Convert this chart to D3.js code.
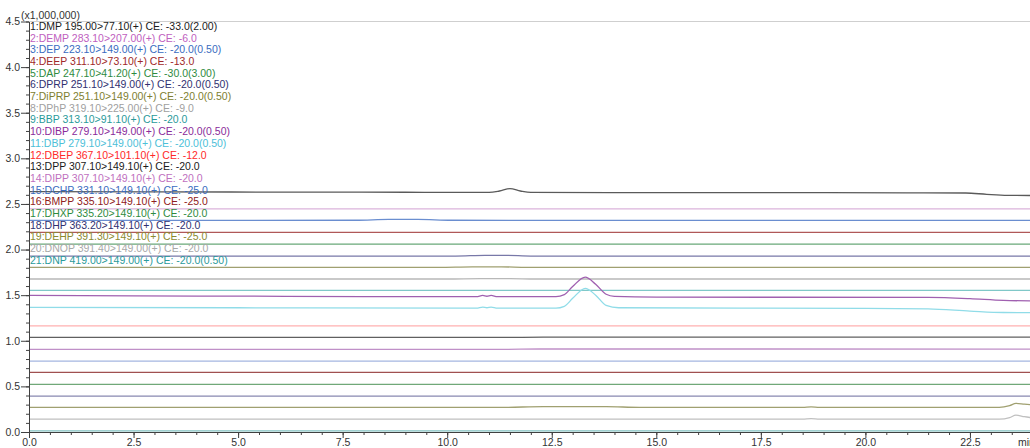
<!DOCTYPE html>
<html>
<head>
<meta charset="utf-8">
<script src="https://cdn.jsdelivr.net/npm/d3@7"></script>
<style>
  html, body { margin: 0; padding: 0; background: #fff; }
  svg { display: block; font-family: "Liberation Sans", Arial, sans-serif; }
</style>
</head>
<body>
<svg id="chart" width="1030" height="448"></svg>
<script>
// MRM channel labels (compound, transition, collision energy)
const channelLabels = [
  "1:DMP 195.00>77.10(+) CE: -33.0(2.00)",
  "2:DEMP 283.10>207.00(+) CE: -6.0",
  "3:DEP 223.10>149.00(+) CE: -20.0(0.50)",
  "4:DEEP 311.10>73.10(+) CE: -13.0",
  "5:DAP 247.10>41.20(+) CE: -30.0(3.00)",
  "6:DPRP 251.10>149.00(+) CE: -20.0(0.50)",
  "7:DiPRP 251.10>149.00(+) CE: -20.0(0.50)",
  "8:DPhP 319.10>225.00(+) CE: -9.0",
  "9:BBP 313.10>91.10(+) CE: -20.0",
  "10:DIBP 279.10>149.00(+) CE: -20.0(0.50)",
  "11:DBP 279.10>149.00(+) CE: -20.0(0.50)",
  "12:DBEP 367.10>101.10(+) CE: -12.0",
  "13:DPP 307.10>149.10(+) CE: -20.0",
  "14:DIPP 307.10>149.10(+) CE: -20.0",
  "15:DCHP 331.10>149.10(+) CE: -25.0",
  "16:BMPP 335.10>149.10(+) CE: -25.0",
  "17:DHXP 335.20>149.10(+) CE: -20.0",
  "18:DHP 363.20>149.10(+) CE: -20.0",
  "19:DEHP 391.30>149.10(+) CE: -25.0",
  "20:DNOP 391.40>149.00(+) CE: -20.0",
  "21:DNP 419.00>149.00(+) CE: -20.0(0.50)"
];

const labelColors = [
  "#1a1a1a", "#c060c0", "#3a6cc0", "#a02828", "#2e8b3e", "#303070", "#7e7e30",
  "#a0a0a0", "#2a9a9a", "#8a2a9a", "#4cc0d8", "#ff2828", "#1a1a1a", "#c070c0",
  "#3a6cc0", "#902020", "#2e8b3e", "#303070", "#8a8a30", "#a8a8a8", "#2a9a9a"
];

const traceColors = [
  "#5a5a5a", "#dcb4dc", "#6a8ed0", "#b05858", "#68a878", "#7878a8", "#a0a070",
  "#b8b8b8", "#80c8c8", "#a060b0", "#90dce8", "#ffb0b0", "#606060", "#c090c8",
  "#a4b6e0", "#a05050", "#70a878", "#8888b0", "#a0a070", "#c0c0c0", "#80c0c0"
];

// Intensity traces, [retention time (min), intensity (x1,000,000)]
const trDMP   = [[0,2.636],[3,2.632],[6,2.630],[9,2.628],[11.0,2.627],[11.25,2.642],[11.5,2.667],[11.75,2.642],[12.0,2.626],[16,2.624],[21,2.622],[22.4,2.620],[22.9,2.605],[23.4,2.594],[24.1,2.592]];
const trDEMP  = [[0,2.447],[12,2.447],[24.1,2.446]];
const trDEP   = [[0,2.320],[7.8,2.321],[8.6,2.330],[9.3,2.331],[10.1,2.321],[12,2.320],[24.1,2.319]];
const trDEEP  = [[0,2.189],[12,2.189],[24.1,2.189]];
const trDAP   = [[0,2.060],[12,2.060],[24.1,2.060]];
const trDPRP  = [[0,1.929],[10.2,1.929],[10.9,1.936],[11.4,1.936],[12.0,1.929],[24.1,1.929]];
const trDiPRP = [[0,1.805],[9.8,1.805],[10.6,1.810],[11.3,1.810],[11.9,1.805],[24.1,1.805]];
const trDPhP  = [[0,1.677],[10.0,1.677],[10.8,1.681],[11.5,1.681],[12.1,1.677],[24.1,1.677]];
const trBBP   = [[0,1.553],[12,1.553],[24.1,1.553]];
const trDIBP  = [[0,1.498],[2.5,1.492],[5,1.489],[8,1.485],[10.7,1.483],[10.85,1.497],[10.95,1.488],[11.05,1.497],[11.2,1.483],[12.6,1.484],[12.8,1.505],[13.0,1.595],[13.3,1.698],[13.55,1.620],[13.8,1.510],[14.0,1.486],[15,1.478],[21.5,1.476],[22.5,1.462],[23.3,1.442],[24.1,1.437]];
const trDBP   = [[0,1.366],[5,1.362],[10.7,1.358],[10.85,1.370],[10.95,1.362],[11.05,1.370],[11.2,1.358],[12.6,1.358],[12.8,1.378],[13.0,1.465],[13.3,1.575],[13.55,1.500],[13.8,1.388],[14.1,1.362],[20,1.356],[21.5,1.350],[22.5,1.326],[23.3,1.310],[24.1,1.308]];
const trDBEP  = [[0,1.164],[12,1.164],[24.1,1.164]];
const trDPP   = [[0,1.037],[11.8,1.037],[12.8,1.041],[24.1,1.040]];
const trDIPP  = [[0,0.906],[11.3,0.906],[12.2,0.910],[24.1,0.909]];
const trDCHP  = [[0,0.777],[12,0.777],[24.1,0.777]];
const trBMPP  = [[0,0.654],[12,0.654],[24.1,0.654]];
const trDHXP  = [[0,0.522],[12,0.522],[24.1,0.523]];
const trDHP   = [[0,0.394],[12,0.394],[24.1,0.394]];
const trDEHP  = [[0,0.270],[11.3,0.270],[12.3,0.278],[13.8,0.278],[14.6,0.270],[18.5,0.270],[18.7,0.276],[18.9,0.270],[23.2,0.271],[23.45,0.290],[23.6,0.314],[23.8,0.305],[24.1,0.293]];
const trDNOP  = [[0,0.141],[18.5,0.141],[18.7,0.146],[18.9,0.141],[23.2,0.141],[23.45,0.158],[23.6,0.184],[23.8,0.168],[24.1,0.150]];
const trDNP   = [[0,0.013],[12,0.013],[24.1,0.013]];

const traces = [trDMP, trDEMP, trDEP, trDEEP, trDAP, trDPRP, trDiPRP, trDPhP, trBBP, trDIBP,
  trDBP, trDBEP, trDPP, trDIPP, trDCHP, trBMPP, trDHXP, trDHP, trDEHP, trDNOP, trDNP];

const yMajorTicks = [0.0, 0.5, 1.0, 1.5, 2.0, 2.5, 3.0, 3.5, 4.0, 4.5];
const xMajorTicks = [0.0, 2.5, 5.0, 7.5, 10.0, 12.5, 15.0, 17.5, 20.0, 22.5];

const svg = d3.select("#chart");
const plotLeft = 29, plotTop = 21.5, plotBottom = 432;
const x = d3.scaleLinear().domain([0, 24]).range([plotLeft, plotLeft + 24 * 41.82]);
const y = d3.scaleLinear().domain([0, 4.5]).range([plotBottom, plotTop]);

// top frame line
svg.append("line")
  .attr("x1", plotLeft).attr("x2", 1030)
  .attr("y1", plotTop).attr("y2", plotTop)
  .attr("stroke", "#cfcfcf").attr("stroke-width", 1);

// traces
const line = d3.line().x(d => x(d[0])).y(d => y(d[1])).curve(d3.curveMonotoneX);
svg.append("clipPath").attr("id", "plotclip")
  .append("rect").attr("x", plotLeft).attr("y", plotTop)
  .attr("width", 1030 - plotLeft).attr("height", plotBottom - plotTop);
const gTraces = svg.append("g").attr("clip-path", "url(#plotclip)");
traces.forEach((tr, i) => {
  gTraces.append("path")
    .datum(tr)
    .attr("d", line)
    .attr("fill", "none")
    .attr("stroke", traceColors[i])
    .attr("stroke-width", 1.3);
});

// y axis: minor ticks every 0.1, major every 0.5
const yMinor = d3.range(0, 46).map(v => v / 10);
svg.append("g")
  .attr("transform", `translate(${plotLeft},0)`)
  .call(d3.axisLeft(y).tickValues(yMinor).tickSize(3).tickFormat(""))
  .call(g => g.select(".domain").remove())
  .call(g => g.selectAll("line").attr("stroke", "#404040"));
svg.append("g")
  .attr("transform", `translate(${plotLeft},0)`)
  .call(d3.axisLeft(y).tickValues(yMajorTicks).tickSize(8).tickSizeOuter(0).tickFormat(d3.format(".1f")))
  .call(g => g.select(".domain").attr("stroke", "#404040"))
  .call(g => g.selectAll("line").attr("stroke", "#404040"))
  .call(g => g.selectAll("text").attr("fill", "#333").attr("font-size", "10.5px")
    .attr("font-family", "'Liberation Sans', Arial, sans-serif").attr("x", -9));

// x axis: minor ticks every 0.5, major every 2.5
const xMinor = d3.range(0, 49).map(v => v / 2);
svg.append("g")
  .attr("transform", `translate(0,${plotBottom})`)
  .call(d3.axisBottom(x).tickValues(xMinor).tickSize(3).tickFormat(""))
  .call(g => g.select(".domain").remove())
  .call(g => g.selectAll("line").attr("stroke", "#404040"));
svg.append("g")
  .attr("transform", `translate(0,${plotBottom})`)
  .call(d3.axisBottom(x).tickValues(xMajorTicks).tickSize(6).tickSizeOuter(0).tickFormat(d3.format(".1f")))
  .call(g => g.select(".domain").attr("stroke", "#404040"))
  .call(g => g.selectAll("line").attr("stroke", "#404040"))
  .call(g => g.selectAll("text").attr("fill", "#333").attr("font-size", "10.5px")
    .attr("font-family", "'Liberation Sans', Arial, sans-serif").attr("y", 7));

// unit labels
svg.append("text").attr("x", 21).attr("y", 18.5)
  .attr("font-size", "10.5px").attr("fill", "#333").text("(x1,000,000)");
svg.append("text").attr("x", 1018).attr("y", 445.5)
  .attr("font-size", "10.5px").attr("fill", "#333").text("min");

// channel legend
const legend = svg.append("g");
channelLabels.forEach((lab, i) => {
  legend.append("text")
    .attr("x", 30)
    .attr("y", 26 + i * 11.7 + 3.8)
    .attr("font-size", "10.5px")
    .attr("fill", labelColors[i])
    .text(lab);
});
</script>
</body>
</html>
